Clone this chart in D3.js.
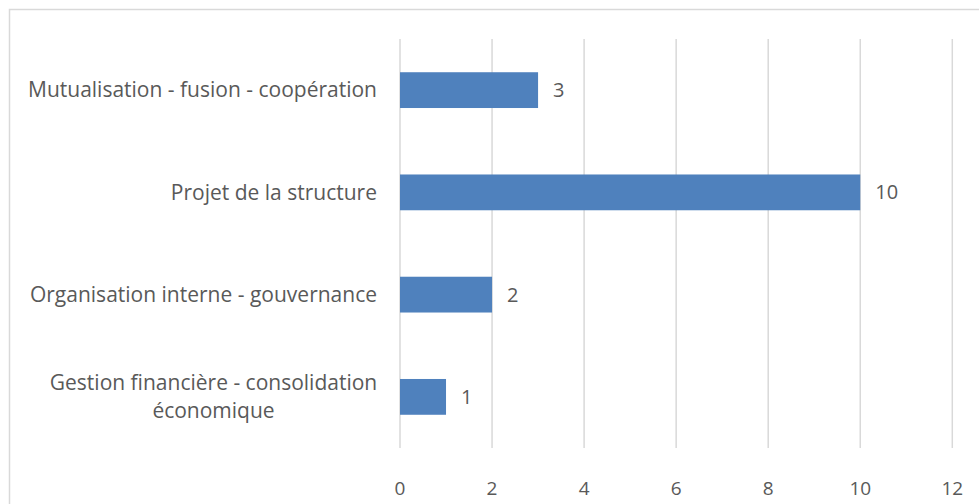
<!doctype html>
<html>
<head>
  <meta charset="utf-8">
  <script src="https://cdnjs.cloudflare.com/ajax/libs/d3/7.8.5/d3.min.js"></script>
  <style>
    body { margin: 0; background: #fff; }
    svg text { font-family: "Open Sans", "Noto Sans", sans-serif; fill: #595959; }
  </style>
</head>
<body>
  <svg id="chart" width="979" height="504"></svg>
  <script>
    // categories, top to bottom
    var categories = [
      "Mutualisation - fusion - coopération",
      "Projet de la structure",
      "Organisation interne - gouvernance",
      "Gestion financière - consolidation économique"
    ];
    var values = [3, 10, 2, 1];
    var ticks = [0, 2, 4, 6, 8, 10, 12];

    var svg = d3.select("#chart");
    var margin = { top: 39, left: 400, right: 979 - 952.3, bottom: 504 - 448 };
    var width = 979 - margin.left - margin.right;
    var height = 504 - margin.top - margin.bottom;

    // chart border
    svg.append("rect")
      .attr("x", 9.5).attr("y", 9.5)
      .attr("width", 975).attr("height", 520)
      .attr("fill", "none")
      .attr("stroke", "#d9d9d9")
      .attr("stroke-width", 1.5);

    var g = svg.append("g")
      .attr("transform", "translate(" + margin.left + "," + margin.top + ")");

    var x = d3.scaleLinear().domain([0, 12]).range([0, width]);
    var y = d3.scaleBand().domain(categories).range([0, height]).paddingInner(0.65).paddingOuter(0.325);

    // gridlines
    g.selectAll(".grid")
      .data(ticks)
      .enter()
      .append("line")
      .attr("class", "grid")
      .attr("x1", d => x(d)).attr("x2", d => x(d))
      .attr("y1", 0).attr("y2", height)
      .attr("stroke", "#d9d9d9")
      .attr("stroke-width", 1.5);

    // x tick labels
    g.selectAll(".tick-label")
      .data(ticks)
      .enter()
      .append("text")
      .attr("class", "tick-label")
      .attr("x", d => x(d))
      .attr("y", height + 40)
      .attr("dy", "0.35em")
      .attr("text-anchor", "middle")
      .style("font-size", "19px")
      .text(d => d);

    // bars
    g.selectAll(".bar")
      .data(values)
      .enter()
      .append("rect")
      .attr("class", "bar")
      .attr("x", 0)
      .attr("y", (d, i) => y(categories[i]))
      .attr("width", d => x(d))
      .attr("height", y.bandwidth())
      .attr("fill", "#4f81bd");

    // value labels
    g.selectAll(".value")
      .data(values)
      .enter()
      .append("text")
      .attr("class", "value")
      .attr("x", d => x(d) + 15)
      .attr("y", (d, i) => y(categories[i]) + y.bandwidth() / 2)
      .attr("dy", "0.35em")
      .style("font-size", "20px")
      .text(d => d);

    // category labels (wrap the long one)
    var lines = {
      "Gestion financière - consolidation économique": ["Gestion financière - consolidation", "économique"]
    };
    categories.forEach(function (c) {
      var parts = lines[c] || [c];
      var cy = y(c) + y.bandwidth() / 2;
      var lx = parts.length > 1 ? -186.5 : -23;
      var t = g.append("text")
        .attr("text-anchor", parts.length > 1 ? "middle" : "end")
        .attr("x", lx)
        .style("font-size", "21px");
      parts.forEach(function (p, i) {
        t.append("tspan")
          .attr("x", lx)
          .attr("y", cy + (i - (parts.length - 1) / 2) * 28)
          .attr("dy", "0.35em")
          .text(p);
      });
    });
  </script>
</body>
</html>
